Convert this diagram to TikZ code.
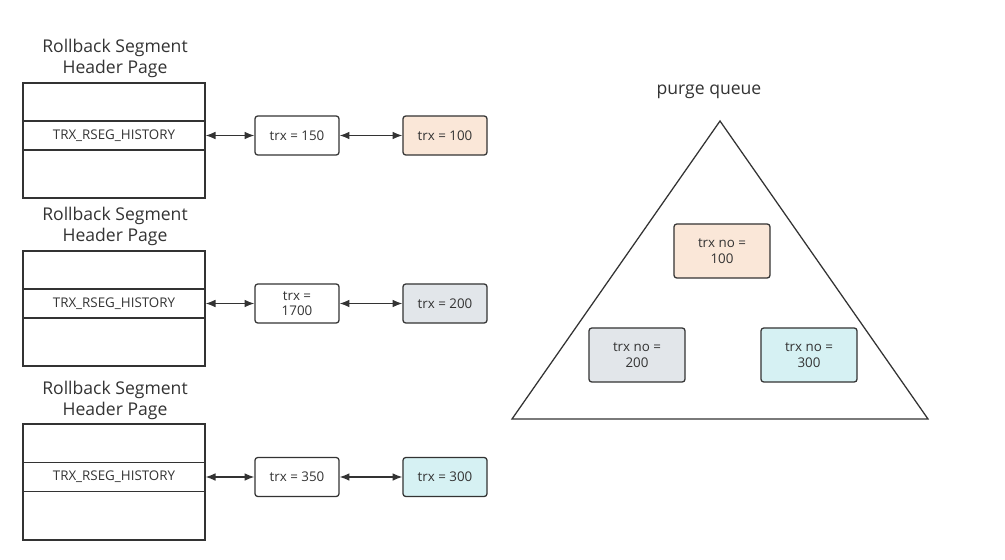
\documentclass[tikz,border=0pt]{standalone}
\usepackage{fontspec}
\setmainfont{Open Sans}
\usetikzlibrary{arrows.meta}
\definecolor{peach}{RGB}{250,231,216}
\definecolor{pgray}{RGB}{226,230,234}
\definecolor{pcyan}{RGB}{214,241,243}
\definecolor{edge}{RGB}{51,51,51}
\tikzset{
  trxbox/.style={draw=edge, line width=0.9pt, rounded corners=2pt, minimum width=2.1cm, minimum height=0.975cm, inner sep=1pt, font=\fontsize{9.5}{11}\selectfont, text=edge},
  qbox/.style={draw=edge, line width=0.9pt, rounded corners=2pt, minimum width=2.4cm, minimum height=1.35cm, align=center, font=\fontsize{9.5}{11.5}\selectfont, text=edge},
  histcell/.style={draw=edge, line width=0.9pt, minimum width=4.55cm, minimum height=0.725cm, inner sep=0pt, font=\fontsize{9.5}{11}\selectfont, text=edge},
  pagetitle/.style={align=center, font=\fontsize{12.5}{15}\selectfont, text=edge},
  link/.style={{Latex[length=7pt,width=5.5pt]}-{Latex[length=7pt,width=5.5pt]}, draw=edge, line width=0.9pt}
}
\begin{document}
\begin{tikzpicture}[x=0.025cm, y=-0.025cm]
\useasboundingbox (0,0) rectangle (1005,559);

% rollback segment header pages
\node[pagetitle] (title1) at (115,58) {Rollback Segment\\Header Page};
\draw[edge, line width=0.9pt] (23,83) rectangle (205,198);
\node[histcell] (hist1) at (114,135.5) {TRX\_RSEG\_HISTORY};

\node[pagetitle] (title2) at (115,226) {Rollback Segment\\Header Page};
\draw[edge, line width=0.9pt] (23,251) rectangle (205,366);
\node[histcell] (hist2) at (114,303.5) {TRX\_RSEG\_HISTORY};

\node[pagetitle] (title3) at (115,400) {Rollback Segment\\Header Page};
\draw[edge, line width=0.9pt] (23,424) rectangle (205,540);
\node[histcell] (hist3) at (114,477) {TRX\_RSEG\_HISTORY};

% history lists
\node[trxbox] (t150) at (297,135.5) {trx = 150};
\node[trxbox, fill=peach] (t100) at (445,135.5) {trx = 100};
\node[trxbox, align=center, font=\fontsize{9.5}{11}\selectfont] (t1700) at (297,303.5) {trx =\\1700};
\node[trxbox, fill=pgray] (t200) at (445,303.5) {trx = 200};
\node[trxbox] (t350) at (297,477) {trx = 350};
\node[trxbox, fill=pcyan] (t300) at (445,477) {trx = 300};

\draw[link] (hist1.east) -- (t150.west);
\draw[link] (t150.east) -- (t100.west);
\draw[link] (hist2.east) -- (t1700.west);
\draw[link] (t1700.east) -- (t200.west);
\draw[link] (hist3.east) -- (t350.west);
\draw[link] (t350.east) -- (t300.west);

% purge queue
\node[pagetitle] (pq) at (709,92) {purge queue};
\draw[edge, line width=0.9pt, line join=miter] (720,121) -- (928,419) -- (512,419) -- cycle;
\node[qbox, fill=peach] (q100) at (722,251) {trx no =\\100};
\node[qbox, fill=pgray] (q200) at (637,355) {trx no =\\200};
\node[qbox, fill=pcyan] (q300) at (809,355) {trx no =\\300};
\end{tikzpicture}
\end{document}
